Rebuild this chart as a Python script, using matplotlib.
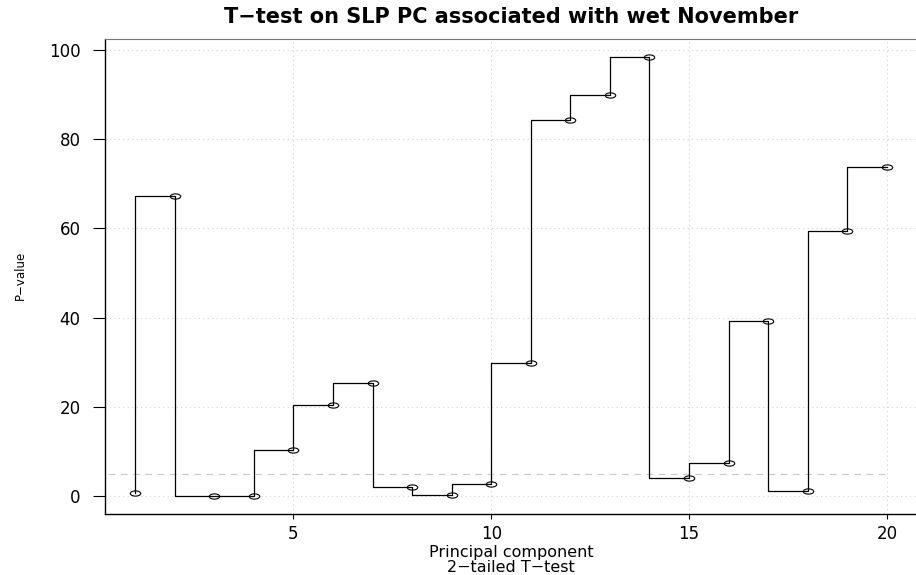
import numpy as np
import matplotlib
matplotlib.use("Agg")
import matplotlib.pyplot as plt
from matplotlib.path import Path

plt.rcParams.update({
    "font.family": "DejaVu Sans",
    "axes.unicode_minus": True,
})

# principal component index and its two-tailed t-test p-value (%)
pc = np.arange(1, 21)
pval = [0.8, 67.3, 0.0, 0.0, 10.4, 20.5, 25.3, 2.1, 0.3, 2.8,
        29.8, 84.4, 89.9, 98.4, 4.1, 7.4, 39.2, 1.3, 59.5, 73.8]
signif = 5.0
xticks = [5, 10, 15, 20]
yticks = [0, 20, 40, 60, 80, 100]

title = "T\u2212test on SLP PC associated with wet November"
xlab = "Principal component\n2\u2212tailed T\u2212test"
ylab = "P\u2212value"

W, H = 916, 575
fig = plt.figure(figsize=(W / 100, H / 100), dpi=100)
ax = fig.add_axes([105 / W, 1 - 514 / H, (917 - 105) / W, (514 - 39) / H])

# wide open-circle marker (the original is stretched horizontally)
circ = Path.unit_circle()
ell = Path(circ.vertices * np.array([1.0, 0.5]), circ.codes)

ax.grid(True, color="#d3d3d3", linestyle=(0, (1, 3)), lw=0.8)
ax.plot([0, 20], [signif, signif], color="#c8c8c8", lw=0.8, ls=(0, (6, 5)))
ax.plot(pc, pval, drawstyle="steps-pre", color="black", lw=0.9)
ax.plot(pc, pval, ls="none", marker=ell, ms=7.5, mfc="none", mec="black", mew=0.8)

ax.set_xlim(0.24, 20.76)
ax.set_ylim(-3.94, 102.44)
ax.set_xticks(xticks)
ax.set_yticks(yticks)
ax.tick_params(axis="x", length=3.6, width=0.8, pad=4, labelsize=12)
ax.tick_params(axis="y", length=8.6, width=0.8, pad=9, labelsize=12)

for side in ["left", "bottom"]:
    ax.spines[side].set_linewidth(1.0)
    ax.spines[side].set_color("black")
ax.spines["top"].set_color("#777777")
ax.spines["top"].set_linewidth(0.8)
ax.spines["right"].set_visible(False)

fig.text(511 / W, 1 - 17 / H, title, ha="center", va="center",
         fontsize=15, fontweight="bold")
fig.text(511 / W, 1 - 560 / H, xlab, ha="center", va="center",
         fontsize=11.5, linespacing=0.95)
fig.text(20 / W, 1 - 275 / H, ylab, ha="center", va="center",
         rotation=90, fontsize=8.5)

fig.savefig("out.png", dpi=100, facecolor="white")
